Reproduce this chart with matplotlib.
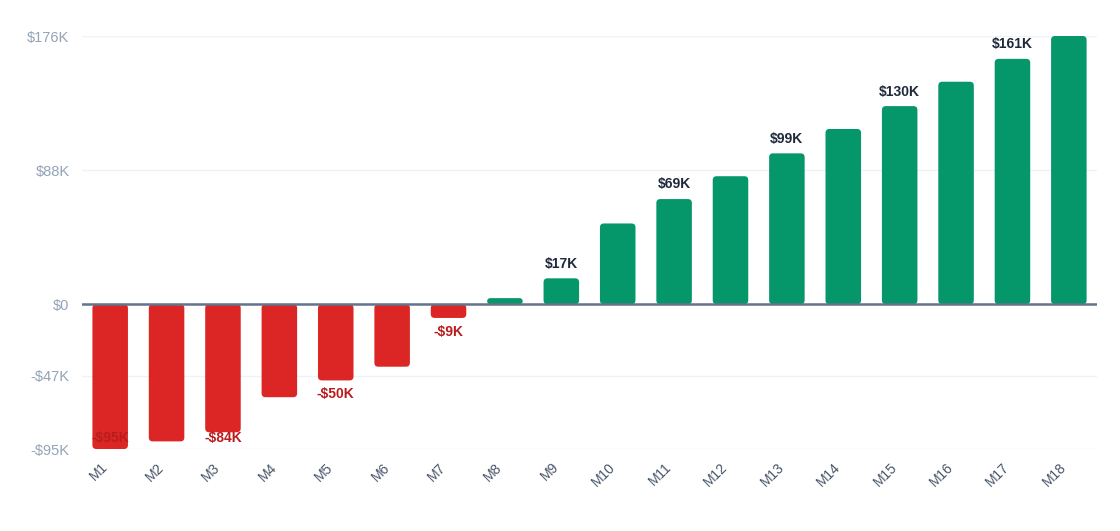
import matplotlib
matplotlib.use("Agg")
import matplotlib.pyplot as plt
from matplotlib.patches import FancyBboxPatch

months = [f"M{i}" for i in range(1, 19)]
values = [-95, -90, -84, -61, -50, -41, -9, 4, 17, 53, 69, 84, 99, 115, 130, 146, 161, 176]  # $K
labeled = ["M1", "M3", "M5", "M7", "M9", "M11", "M13", "M15", "M17"]
ytick_vals = [-95, -47, 0, 88, 176]
ytick_labels = ["-$95K", "-$47K", "$0", "$88K", "$176K"]

plt.rcParams['font.family'] = ['Liberation Sans', 'DejaVu Sans']

fig = plt.figure(figsize=(11.2, 5.31), dpi=100)
ax = fig.add_axes([0.0732, 0.1544, 0.9063, 0.7778])

x = list(range(len(months)))
colors = ["#059669" if v >= 0 else "#dc2626" for v in values]
bars = ax.bar(x, values, width=0.63, color=colors, zorder=3)

ax.set_xlim(-0.5, len(months) - 0.5)
ax.set_ylim(min(ytick_vals), max(ytick_vals))

# rounded bars
fig.canvas.draw()
bbox = ax.get_window_extent()
px_per_x = bbox.width / (len(months))
px_per_y = bbox.height / (max(ytick_vals) - min(ytick_vals))
aspect = px_per_x / px_per_y
for b in bars:
    xx, yy = b.get_x(), b.get_y()
    w, h = b.get_width(), b.get_height()
    y0 = min(yy, yy + h)
    hh = abs(h)
    r = min(0.07, hh / aspect / 2.0)
    p = FancyBboxPatch((xx, y0), w, hh,
                       boxstyle=f"round,pad=0,rounding_size={r}",
                       mutation_aspect=aspect,
                       facecolor=b.get_facecolor(), edgecolor="none", zorder=3)
    ax.add_patch(p)
    b.set_visible(False)

ax.set_yticks(ytick_vals)
ax.set_yticklabels(ytick_labels, fontsize=10.5, color="#94a3b8")
ax.set_xticks(x)
ax.set_xticklabels(months, rotation=45, ha="right", va="top",
                   fontsize=10, color="#475569")
ax.tick_params(axis="both", length=0)
ax.tick_params(axis="y", pad=9)
ax.tick_params(axis="x", pad=8)
for s in ax.spines.values():
    s.set_visible(False)
ax.yaxis.grid(True, color="#eef2f6", linewidth=1, zorder=0)
ax.axhline(0, color="#64748b", linewidth=1.8, zorder=4)

ymin = min(ytick_vals)
for i, (m, v) in enumerate(zip(months, values)):
    if m not in labeled:
        continue
    txt = f"${v}K" if v >= 0 else f"-${abs(v)}K"
    if v >= 0:
        ax.annotate(txt, (i, v), xytext=(0, 10.5), textcoords="offset points",
                    ha="center", va="center", fontsize=10, fontweight="bold",
                    color="#1e293b", zorder=5)
    else:
        ly = v - 14 / px_per_y
        ly = max(ly, ymin + 11 / px_per_y)
        ax.text(i, ly, txt, ha="center", va="center", fontsize=10,
                fontweight="bold", color="#b91c1c", zorder=5)

fig.savefig("out.png", dpi=100)
